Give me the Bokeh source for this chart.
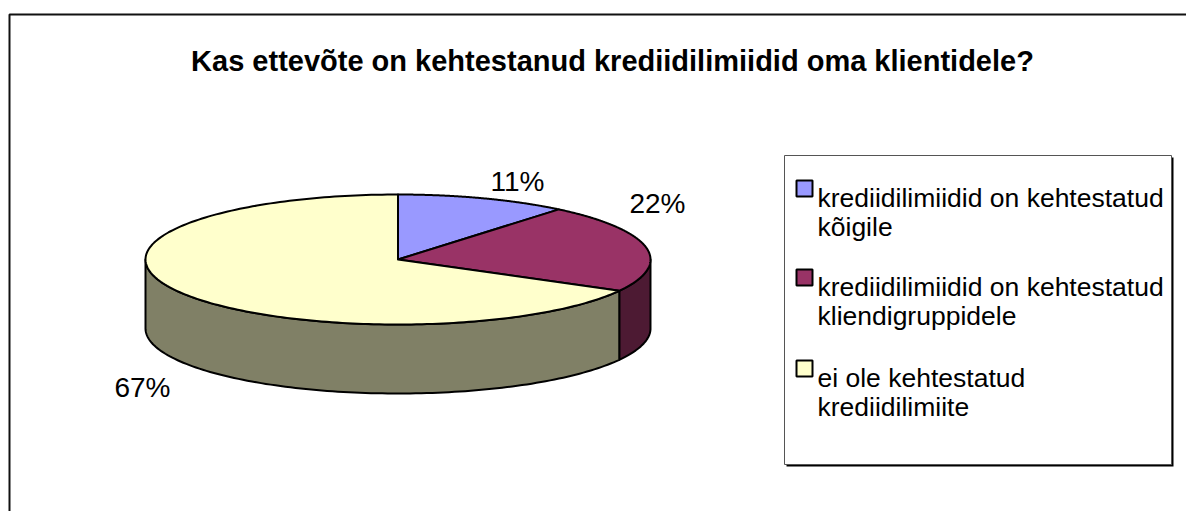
import numpy as np
from bokeh.plotting import figure
from bokeh.models import Range1d
from bokeh.core.properties import value
from bokeh.embed import file_html
from bokeh.resources import INLINE

# ---------------- data ----------------
title_text = "Kas ettevõte on kehtestanud krediidilimiidid oma klientidele?"
categories = [
    "krediidilimiidid on kehtestatud kõigile",
    "krediidilimiidid on kehtestatud kliendigruppidele",
    "ei ole kehtestatud krediidilimiite",
]
legend_lines = [
    ["krediidilimiidid on kehtestatud", "kõigile"],
    ["krediidilimiidid on kehtestatud", "kliendigruppidele"],
    ["ei ole kehtestatud", "krediidilimiite"],
]
values = [11, 22, 67]

# ---------------- style / layout ----------------
top_colors = ["#9999FF", "#993366", "#FFFFCC"]
side_colors = ["#4D4D80", "#4D1A33", "#808066"]
FONT = "Liberation Sans"

W, H = 1186, 511
CX, CY, RX, RY, DEPTH = 397.5, 259.0, 252.5, 65.0, 69.0
LABEL_POS = [(517, 181), (657, 203), (142, 387)]

p = figure(width=W, height=H, output_backend="svg", toolbar_location=None,
           x_range=Range1d(0, W), y_range=Range1d(H, 0),
           min_border=0, min_border_left=0, min_border_right=0,
           min_border_top=0, min_border_bottom=0)
p.axis.visible = False
p.grid.visible = False
p.outline_line_color = None
p.background_fill_color = "white"
p.border_fill_color = "white"

# chart area border (top & left visible)
p.line([9, 9, 1300], [600, 14, 14], line_color="#111111", line_width=2)

# ---------------- pie geometry from data ----------------
total = float(sum(values))
starts, ends = [], []
cum = 0.0
for v in values:
    a0 = 90.0 - 360.0 * cum / total
    a1 = a0 - 360.0 * v / total
    starts.append(a0)
    ends.append(a1)
    cum += v

side_xs, side_ys, side_cols = [], [], []
for i in range(len(values)):
    for shift in (0.0, 360.0, -360.0):
        hi = min(starts[i] + shift, 0.0)
        lo = max(ends[i] + shift, -180.0)
        if lo < hi:
            t = np.radians(np.linspace(hi, lo, 120))
            tx = CX + RX * np.cos(t)
            ty = CY - RY * np.sin(t)
            xs = list(tx) + list(tx[::-1])
            ys = list(ty) + list((ty + DEPTH)[::-1])
            side_xs.append(xs)
            side_ys.append(ys)
            side_cols.append(side_colors[i])

p.patches(side_xs, side_ys, fill_color=side_cols, line_color="black",
          line_width=2, line_join="round")

top_xs, top_ys = [], []
for i in range(len(values)):
    t = np.radians(np.linspace(starts[i], ends[i], 200))
    top_xs.append([CX] + list(CX + RX * np.cos(t)))
    top_ys.append([CY] + list(CY - RY * np.sin(t)))
p.patches(top_xs, top_ys, fill_color=top_colors, line_color="black",
          line_width=2, line_join="round")

# percent labels
pct = ["%d%%" % round(100 * v / total) for v in values]
p.text([q[0] for q in LABEL_POS], [q[1] for q in LABEL_POS], text=pct,
       text_font=value(FONT), text_font_size="28px", text_color="black",
       text_align="center", text_baseline="alphabetic")

# title
p.text([612], [60], text=[title_text], text_font=value(FONT),
       text_font_size="29px", text_font_style="bold", text_color="black",
       text_align="center", text_baseline="alphabetic")

# ---------------- legend ----------------
LX0, LX1, LY0, LY1 = 784, 1171, 155, 464
p.quad(left=[LX0 + 2], right=[LX1 + 2], top=[LY0 + 2], bottom=[LY1 + 2],
       fill_color="#000000", line_color=None)
p.quad(left=[LX0], right=[LX1], top=[LY0], bottom=[LY1],
       fill_color="white", line_color="#555555", line_width=1)

row_y = [197, 286, 377]
p.rect([804] * 3, [y - 9 for y in row_y], width=16, height=16,
       fill_color=top_colors, line_color="black", line_width=2)
lx, ly, lt = [], [], []
for i, lines in enumerate(legend_lines):
    for j, s in enumerate(lines):
        lx.append(817)
        ly.append(row_y[i] + 29 * j)
        lt.append(s)
p.text(lx, ly, text=lt, text_font=value(FONT), text_font_size="26.5px",
       text_color="black", text_align="left", text_baseline="alphabetic")

open("out.html", "w").write(file_html(p, INLINE))
